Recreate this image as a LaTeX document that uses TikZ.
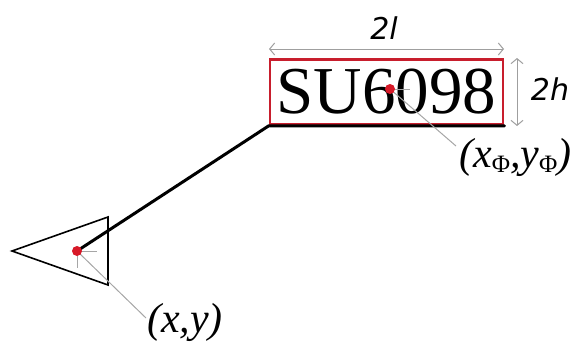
\documentclass[tikz,border=0pt]{standalone}
\usepackage{fontspec}
\setmainfont{Liberation Serif}
\newfontfamily\dimfont{DejaVu Sans}
\usetikzlibrary{arrows.meta}
\definecolor{boxred}{RGB}{200,30,45}
\definecolor{dotred}{RGB}{215,25,40}
\tikzset{
  dimline/.style={draw=gray!75, line width=1pt, {Straight Barb[length=5pt,width=12pt]}-{Straight Barb[length=5pt,width=12pt]}},
  thinray/.style={draw=gray!70, line width=1pt},
  reddot/.style={circle, fill=dotred, inner sep=0pt, minimum size=10pt},
  labelbox/.style={draw=boxred, line width=2.8pt, minimum width=233pt, minimum height=65pt, inner sep=0pt, font=\fontsize{67}{67}\selectfont},
  coordlabel/.style={font=\fontsize{42}{42}\selectfont\itshape, inner sep=0pt},
  dimlabel/.style={font=\fontsize{30}{30}\selectfont\dimfont\itshape, inner sep=0pt}
}
\newcommand{\phisub}{\raisebox{-0.12em}{\fontsize{25}{25}\selectfont\upshape Φ}}
\begin{document}
\begin{tikzpicture}[x=1pt,y=-1pt]
\useasboundingbox (0,0) rectangle (576,343);
% label box
\node[labelbox] (box) at (386.5,92) {SU6098};
% black leader along bottom and to the aircraft
\coordinate (p) at (77,251);
\draw[line width=3pt, line cap=round] (box.south east) -- (box.south west) -- (p);
% aircraft triangle
\coordinate (t1) at (12,251);
\coordinate (t2) at (108,217);
\coordinate (t3) at (108,285);
\draw[line width=1.6pt, line join=miter] (t1) -- (t2) -- (t3) -- cycle;
% gray cross and ray at aircraft
\coordinate (pc1) at (97,251);
\coordinate (pc2) at (77,268);
\draw[thinray] (p) -- (pc1);
\draw[thinray] (p) -- (pc2);
\node[coordlabel, anchor=base west] (xy) at (147,332) {(x,y)};
\coordinate (xyend) at (146,318);
\draw[thinray] (p) -- (xyend);
\node[reddot] (pdot) at (p) {};
% label centre
\coordinate (c) at (390,89);
\coordinate (cc) at (410,89);
\draw[thinray] (c) -- (cc);
\coordinate (cend) at (456,146);
\draw[thinray] (c) -- (cend);
\node[reddot] (cdot) at (c) {};
\node[coordlabel, anchor=west] (xyphi) at (459,157) {(x\phisub,y\phisub)};
% dimensions
\coordinate (dl1) at (269,49);
\coordinate (dl2) at (504,49);
\draw[dimline] (dl1) -- (dl2);
\node[dimlabel] (twol) at (384,28) {2l};
\coordinate (dh1) at (517,58);
\coordinate (dh2) at (517,126);
\draw[dimline] (dh1) -- (dh2);
\node[dimlabel] (twoh) at (550,89) {2h};
\end{tikzpicture}
\end{document}
